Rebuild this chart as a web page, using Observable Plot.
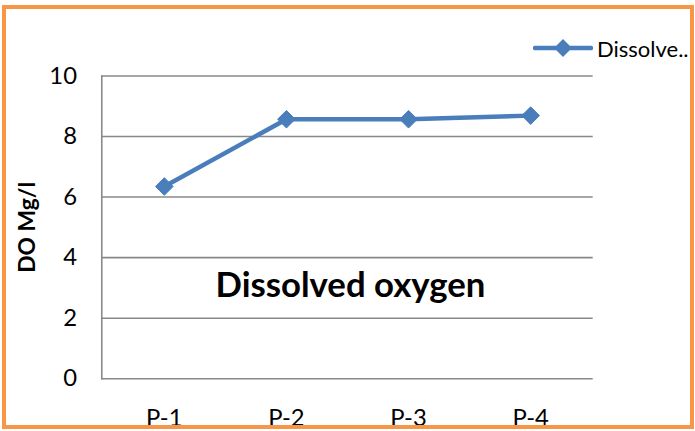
<!DOCTYPE html>
<html>
<head>
<meta charset="utf-8">
<script src="https://cdn.jsdelivr.net/npm/d3@7"></script>
<script src="https://cdn.jsdelivr.net/npm/@observablehq/plot@0.6"></script>
<style>
  html, body { margin: 0; padding: 0; background: #fff; }
  #wrap { position: relative; width: 695px; height: 431px; overflow: hidden; background: #fff; }
  #frame { position: absolute; left: 2px; top: 5px; width: 684px; height: 416px;
           border: 4px solid #F79646; overflow: hidden; background: #fff; }
  #chart { position: absolute; left: -6px; top: -9px; }
  #legend { position: absolute; left: 527px; top: 24px; height: 30px; display: flex; align-items: center;
            font-family: Lato, "Open Sans", sans-serif; font-size: 22px; color: #000; white-space: nowrap; }
</style>
</head>
<body>
<div id="wrap">
  <div id="frame">
    <div id="chart"></div>
    <div id="legend"></div>
  </div>
</div>
<script>
const sites = ["P-1", "P-2", "P-3", "P-4"];
const doValues = [6.35, 8.57, 8.57, 8.69];
const yTicks = [0, 2, 4, 6, 8, 10];
const seriesName = "Dissolved oxygen";
const legendLabel = "Dissolve..";
const yLabel = "DO Mg/l";
const lineColor = "#4A7EBB";

const data = sites.map((s, i) => ({site: s, value: doValues[i]}));

const chart = Plot.plot({
  width: 695,
  height: 431,
  marginLeft: 102,
  marginRight: 98,
  marginTop: 76,
  marginBottom: 50,
  style: {fontFamily: "Lato, 'Open Sans', sans-serif", fontSize: "24px", color: "#000", background: "transparent", overflow: "visible"},
  x: {type: "point", domain: sites, padding: 0.5},
  y: {domain: [0, 10], ticks: yTicks},
  marks: [
    Plot.gridY(yTicks, {stroke: "#888", strokeOpacity: 1, strokeWidth: 1.6}),
    Plot.frame({anchor: "left", stroke: "#888", strokeWidth: 1.6}),
    Plot.axisY({ticks: yTicks, tickSize: 0, tickPadding: 25, fontSize: 24, label: null}),
    Plot.axisX({tickSize: 0, tickPadding: 31, fontSize: 24, label: null}),
    Plot.text([yLabel], {frameAnchor: "left", dx: -75, rotate: -90, fontWeight: "bold", fontSize: 23, textAnchor: "middle"}),
    Plot.text([seriesName], {frameAnchor: "middle", dx: 3, dy: 59, fontWeight: "bold", fontSize: 35}),
    Plot.line(data, {x: "site", y: "value", stroke: lineColor, strokeWidth: 4.5}),
    Plot.dot(data, {x: "site", y: "value", symbol: "diamond2", r: 8, fill: lineColor, stroke: lineColor, strokeWidth: 1})
  ]
});
document.getElementById("chart").appendChild(chart);

// legend: line with diamond marker
const lg = document.getElementById("legend");
const ns = "http://www.w3.org/2000/svg";
const sv = document.createElementNS(ns, "svg");
sv.setAttribute("width", 60); sv.setAttribute("height", 20);
sv.style.marginRight = "4px";
const ln = document.createElementNS(ns, "line");
ln.setAttribute("x1", 2); ln.setAttribute("x2", 58); ln.setAttribute("y1", 10); ln.setAttribute("y2", 10);
ln.setAttribute("stroke", lineColor); ln.setAttribute("stroke-width", 4.5); ln.setAttribute("stroke-linecap", "round");
sv.appendChild(ln);
const dm = document.createElementNS(ns, "path");
dm.setAttribute("d", d3.symbol(d3.symbolDiamond2, 8 * 8 * Math.PI)());
dm.setAttribute("transform", "translate(30,10)");
dm.setAttribute("fill", lineColor);
sv.appendChild(dm);
lg.appendChild(sv);
const sp = document.createElement("span");
sp.textContent = legendLabel;
lg.appendChild(sp);
</script>
</body>
</html>
